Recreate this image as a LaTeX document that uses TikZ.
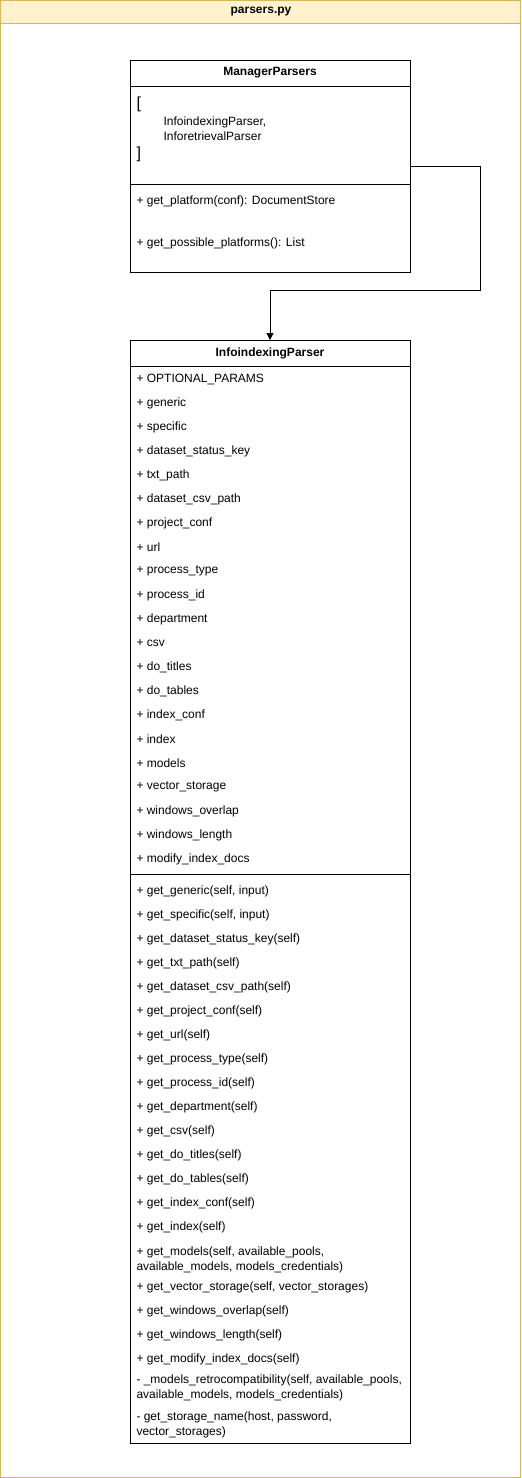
\documentclass[tikz,border=0pt]{standalone}
\usepackage{fontspec}
\setmainfont{Liberation Sans}
\usetikzlibrary{arrows.meta}
\definecolor{frameyel}{HTML}{D6B656}
\definecolor{fillyel}{HTML}{FFF2CC}
\begin{document}
\begin{tikzpicture}[x=1pt,y=-1pt,
  line width=1pt,
  classbox/.style={draw=black, line width=1pt, fill=white, anchor=north west, inner sep=0pt, outer sep=0pt},
  ttl/.style={font=\fontsize{12}{14}\selectfont\bfseries, inner sep=0pt},
  item/.style={font=\fontsize{12}{15}\selectfont, anchor=west, inner sep=0pt, align=left},
  conn/.style={draw=black, line width=1pt, -{Triangle[length=7pt,width=7pt]}}
]
\useasboundingbox (0,0) rectangle (522,1478);
% outer frame
\node[draw=frameyel, line width=1pt, anchor=north west, minimum width=520, minimum height=1476.5, inner sep=0pt, outer sep=0pt] (frame) at (0.5,0.5) {};
\node[draw=frameyel, fill=fillyel, line width=1pt, anchor=north west, minimum width=520, minimum height=22.5, inner sep=0pt, outer sep=0pt] (hdr) at (0.5,0.5) {};
\node[ttl] (hdrtxt) at (261,12) {parsers.py};

% ManagerParsers
\node[classbox, minimum width=280, minimum height=212] (mgr) at (130,60) {};
\node[ttl] (mgrttl) at (270,73) {ManagerParsers};
\coordinate (m1l) at (130,86); \coordinate (m1r) at (410,86);
\coordinate (m2l) at (130,184); \coordinate (m2r) at (410,184);
\draw (m1l) -- (m1r);
\draw (m2l) -- (m2r);
\node[item, font=\fontsize{16}{18}\selectfont] (mbr1) at (136,104) {[};
\node[item] (mattr) at (163,129) {InfoindexingParser,\\InforetrievalParser};
\node[item, font=\fontsize{16}{18}\selectfont] (mbr2) at (136,154) {]};
\node[item] (mm1) at (136,201) {+ get\_platform(conf): DocumentStore};
\node[item] (mm2) at (136,243) {+ get\_possible\_platforms(): List};

% InfoindexingParser
\node[classbox, minimum width=280, minimum height=1103] (idx) at (130,340) {};
\node[ttl] (idxttl) at (270,353) {InfoindexingParser};
\coordinate (i1l) at (130,366); \coordinate (i1r) at (410,366);
\coordinate (i2l) at (130,874); \coordinate (i2r) at (410,874);
\draw (i1l) -- (i1r);
\draw (i2l) -- (i2r);

\foreach \t [count=\i from 0] in {OPTIONAL\_PARAMS, generic, specific, dataset\_status\_key, txt\_path, dataset\_csv\_path, project\_conf, url, process\_type, process\_id, department, csv, do\_titles, do\_tables, index\_conf, index, models, vector\_storage, windows\_overlap, windows\_length, modify\_index\_docs}
  \node[item] (a\i) at (136,379+24*\i) {+ \t};

\foreach \t [count=\i from 0] in {{get\_generic(self, input)}, {get\_specific(self, input)}, get\_dataset\_status\_key(self), get\_txt\_path(self), get\_dataset\_csv\_path(self), get\_project\_conf(self), get\_url(self), get\_process\_type(self), get\_process\_id(self), get\_department(self), get\_csv(self), get\_do\_titles(self), get\_do\_tables(self), get\_index\_conf(self), get\_index(self)}
  \node[item] (f\i) at (136,891+24*\i) {+ \t};

\node[item] (f15) at (136,1259.5) {+ get\_models(self, available\_pools,\\available\_models, models\_credentials)};
\node[item] (f16) at (136,1287) {+ get\_vector\_storage(self, vector\_storages)};
\node[item] (f17) at (136,1311) {+ get\_windows\_overlap(self)};
\node[item] (f18) at (136,1335) {+ get\_windows\_length(self)};
\node[item] (f19) at (136,1359) {+ get\_modify\_index\_docs(self)};
\node[item] (f20) at (136,1388) {- \_models\_retrocompatibility(self, available\_pools,\\available\_models, models\_credentials)};
\node[item] (f21) at (136,1425) {- get\_storage\_name(host, password,\\vector\_storages)};

% connector
\draw[conn] (mgr.east) -- ++(70,0) -- ++(0,124) -| (idx.north);
\end{tikzpicture}
\end{document}
